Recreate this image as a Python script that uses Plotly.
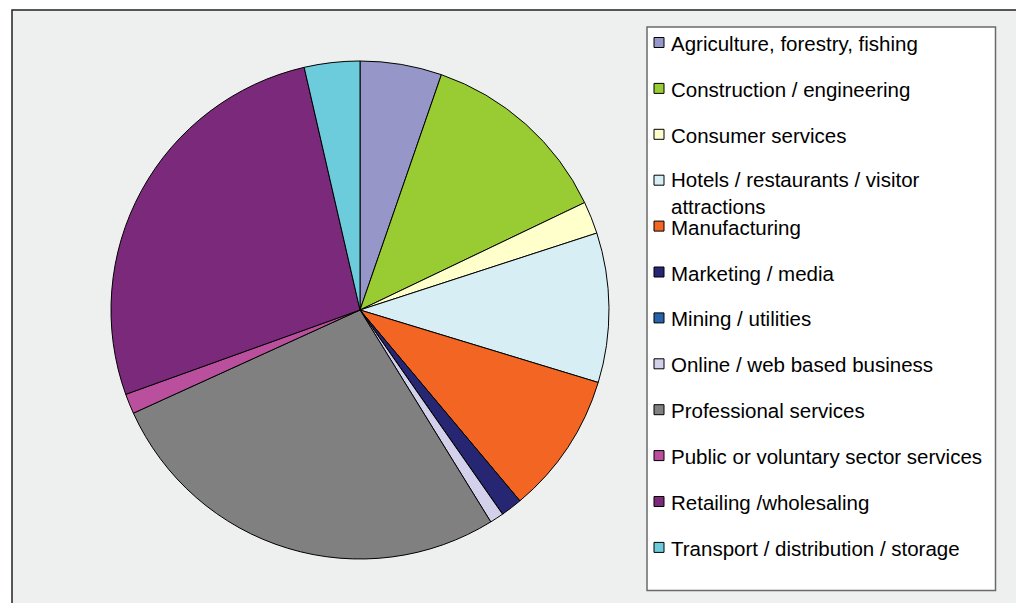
import plotly.graph_objects as go

# page body has an 8px margin; figure is sized to fill the rest of the window
OFF = 8
W, H = 1024 - OFF, 603 - OFF

labels = [
    "Agriculture, forestry, fishing",
    "Construction / engineering",
    "Consumer services",
    "Hotels / restaurants / visitor attractions",
    "Manufacturing",
    "Marketing / media",
    "Mining / utilities",
    "Online / web based business",
    "Professional services",
    "Public or voluntary sector services",
    "Retailing /wholesaling",
    "Transport / distribution / storage",
]
values = [5.3, 12.6, 2.1, 9.7, 9.2, 1.4, 0.0, 0.9, 27.0, 1.3, 26.9, 3.6]
colors = [
    "#9696C8", "#99CC33", "#FFFFCC", "#D6EEF4", "#F26522", "#262673",
    "#2563AA", "#D2D0EA", "#808080", "#BA4F9E", "#7B2A7B", "#6CCCDC",
]


def px(x):
    return (x - OFF) / W


def py(y):
    return 1 - (y - OFF) / H


# pie geometry (window pixels)
cx, cy, r = 360, 310, 249

fig = go.Figure()
fig.add_trace(go.Pie(
    labels=labels,
    values=values,
    sort=False,
    direction="clockwise",
    rotation=0,
    textinfo="none",
    showlegend=False,
    marker=dict(colors=colors, line=dict(color="#000000", width=1)),
    domain=dict(x=[px(cx - r), px(cx + r)], y=[py(cy + r), py(cy - r)]),
))

FONT = dict(family="Liberation Sans, Arial", size=20.5, color="#000000")

shapes = [
    # outer chart frame
    dict(type="rect", xref="paper", yref="paper", layer="below",
         x0=px(12), x1=px(1018), y0=-0.02, y1=py(10),
         fillcolor="#EEF0EF", line=dict(color="#222222", width=1.5)),
    # legend box
    dict(type="rect", xref="paper", yref="paper", layer="below",
         x0=px(647), x1=px(995.5), y0=py(590.5), y1=py(27),
         fillcolor="#FFFFFF", line=dict(color="#6A6A6A", width=1.5)),
]
annotations = []
y0, step = 42.5, 45.9
for i, (lab, col) in enumerate(zip(labels, colors)):
    yc = y0 + step * i
    shapes.append(dict(type="rect", xref="paper", yref="paper", layer="above",
                       x0=px(654), x1=px(664), y0=py(yc + 5), y1=py(yc - 5),
                       fillcolor=col, line=dict(color="#000000", width=1)))
    text = lab.replace("visitor attractions", "visitor<br>attractions")
    if "<br>" in text:
        annotations.append(dict(xref="paper", yref="paper", x=px(669), y=py(yc - 14),
                                text=text, showarrow=False, xanchor="left", yanchor="top",
                                align="left", font=FONT))
    else:
        annotations.append(dict(xref="paper", yref="paper", x=px(669), y=py(yc + 1),
                                text=text, showarrow=False, xanchor="left", yanchor="middle",
                                align="left", font=FONT))

fig.update_layout(
    width=W, height=H,
    margin=dict(l=0, r=0, t=0, b=0),
    paper_bgcolor="#FFFFFF",
    plot_bgcolor="#FFFFFF",
    shapes=shapes,
    annotations=annotations,
)

fig.write_html("out.html")
